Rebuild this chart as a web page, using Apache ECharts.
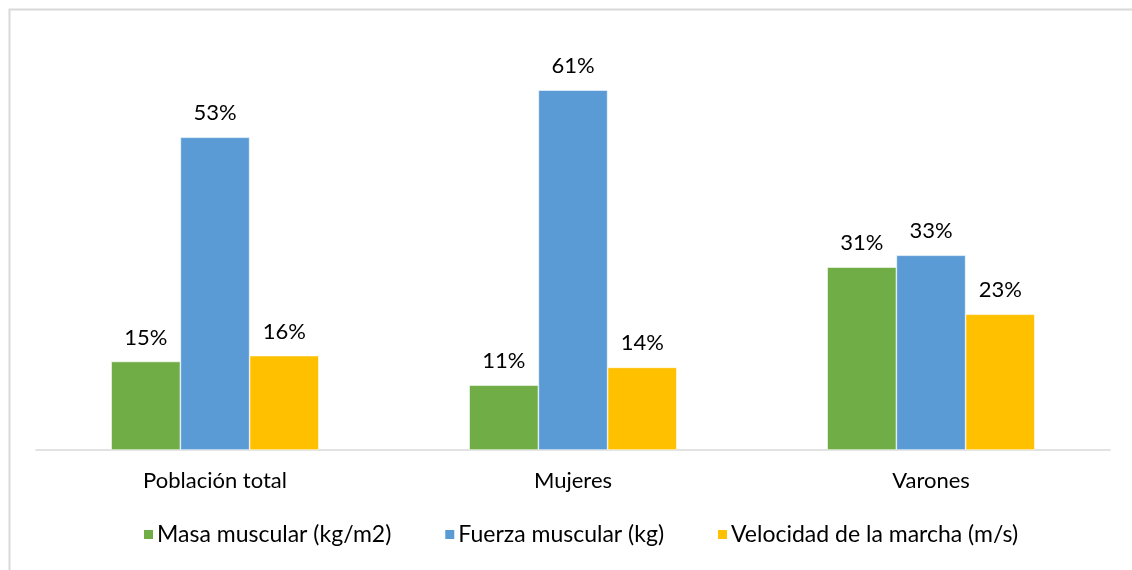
<!DOCTYPE html>
<html>
<head>
<meta charset="utf-8">
<script src="https://cdn.jsdelivr.net/npm/echarts@6/dist/echarts.min.js"></script>
<style>
  html, body { margin: 0; padding: 0; background: #ffffff; }
  #chart { width: 1132px; height: 570px; }
</style>
</head>
<body>
<div id="chart"></div>
<script>
// Grupos de población y porcentajes por criterio
const categories = ['Población total', 'Mujeres', 'Varones'];
const masaMuscular = [15, 11, 31];
const fuerzaMuscular = [53, 61, 33];
const velocidadMarcha = [16, 14, 23];
const seriesNames = ['Masa muscular (kg/m2)', 'Fuerza muscular (kg)', 'Velocidad de la marcha (m/s)'];
const seriesColors = ['#70AD47', '#5B9BD5', '#FFC000'];

const FONT = 'Lato, "Liberation Sans", sans-serif';

function barSeries(name, data, color) {
  return {
    name: name,
    type: 'bar',
    data: data,
    barGap: '0%',
    barCategoryGap: '42%',
    itemStyle: { color: color, borderColor: '#ffffff', borderWidth: 0.6 },
    label: {
      show: true,
      position: 'top',
      distance: 13,
      formatter: '{c}%',
      color: '#000000',
      fontFamily: FONT,
      fontSize: 22
    }
  };
}

const chart = echarts.init(document.getElementById('chart'));
chart.setOption({
  animation: false,
  backgroundColor: '#ffffff',
  graphic: [{
    type: 'rect',
    left: 7,
    top: 7,
    shape: { width: 1140, height: 580 },
    style: { fill: 'none', stroke: '#d9d9d9', lineWidth: 2 },
    silent: true
  }],
  grid: { left: 36, right: 22, top: 37, bottom: 120 },
  legend: {
    bottom: 19,
    left: 137,
    itemWidth: 11,
    itemHeight: 11,
    itemGap: 52,
    icon: 'rect',
    textStyle: { fontFamily: FONT, fontSize: 23, color: '#000000', padding: [0, 0, 0, -2] },
    data: seriesNames
  },
  xAxis: {
    type: 'category',
    data: categories,
    axisLine: { lineStyle: { color: '#d9d9d9', width: 1.5 } },
    axisTick: { show: false },
    axisLabel: { margin: 20, fontFamily: FONT, fontSize: 22, color: '#000000' }
  },
  yAxis: {
    type: 'value',
    min: 0,
    max: 70,
    show: false,
    splitLine: { show: false }
  },
  series: [
    barSeries(seriesNames[0], masaMuscular, seriesColors[0]),
    barSeries(seriesNames[1], fuerzaMuscular, seriesColors[1]),
    barSeries(seriesNames[2], velocidadMarcha, seriesColors[2])
  ]
});
</script>
</body>
</html>
